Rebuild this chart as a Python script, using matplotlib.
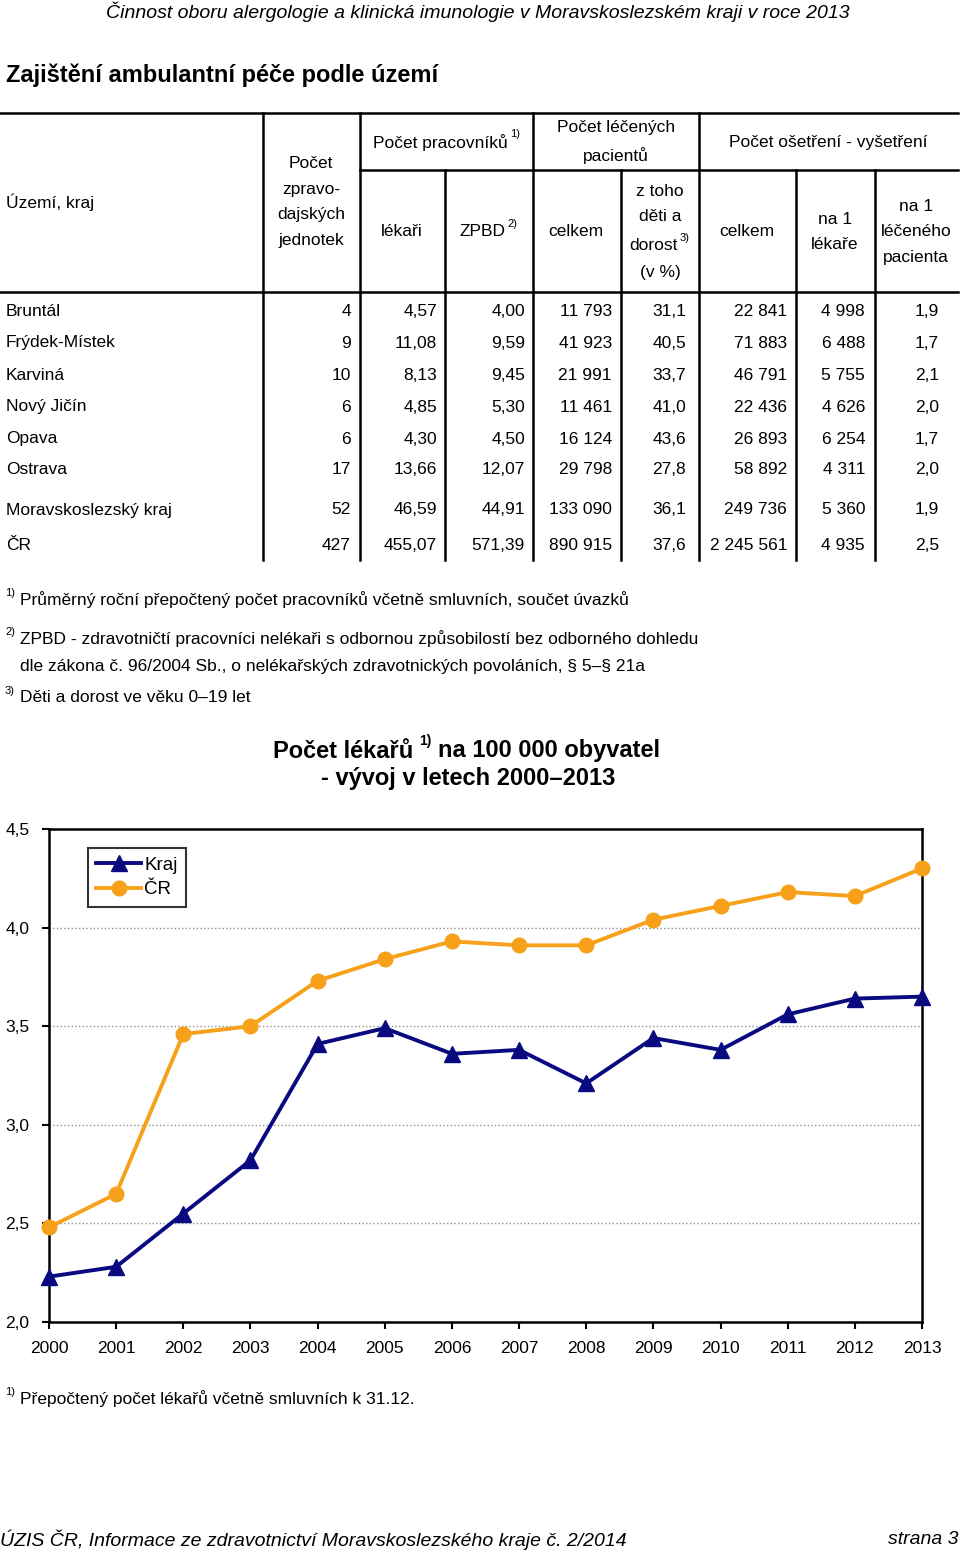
import matplotlib
matplotlib.use('Agg')
import matplotlib.pyplot as plt
from matplotlib.ticker import FuncFormatter

plt.rcParams['font.family'] = ['Liberation Sans', 'DejaVu Sans']

# table data
regions = ['Bruntál', 'Frýdek-Místek', 'Karviná', 'Nový Jičín', 'Opava', 'Ostrava',
           'Moravskoslezský kraj', 'ČR']
jednotky = [4, 9, 10, 6, 6, 17, 52, 427]
lekari = [4.57, 11.08, 8.13, 4.85, 4.30, 13.66, 46.59, 455.07]
zpbd = [4.00, 9.59, 9.45, 5.30, 4.50, 12.07, 44.91, 571.39]
pacienti = [11793, 41923, 21991, 11461, 16124, 29798, 133090, 890915]
deti_pct = [31.1, 40.5, 33.7, 41.0, 43.6, 27.8, 36.1, 37.6]
osetreni = [22841, 71883, 46791, 22436, 26893, 58892, 249736, 2245561]
na_lekare = [4998, 6488, 5755, 4626, 6254, 4311, 5360, 4935]
na_pacienta = [1.9, 1.7, 2.1, 2.0, 1.7, 2.0, 1.9, 2.5]

# chart data
years = list(range(2000, 2014))
kraj = [2.23, 2.28, 2.55, 2.82, 3.41, 3.49, 3.36, 3.38, 3.21, 3.44, 3.38, 3.56, 3.64, 3.65]
cr = [2.48, 2.65, 3.46, 3.50, 3.73, 3.84, 3.93, 3.91, 3.91, 4.04, 4.11, 4.18, 4.16, 4.30]


def fmt_int(v):
    return f'{v:,}'.replace(',', ' ')


def fmt_dec(v, n):
    return f'{v:.{n}f}'.replace('.', ',')


W, H = 960, 1554
fig = plt.figure(figsize=(W / 100, H / 100), dpi=100)

# page axes in pixel coordinates
page = fig.add_axes([0, 0, 1, 1])
page.set_xlim(0, W)
page.set_ylim(H, 0)
page.axis('off')

FS = 12.5
SUP = 8
LS = 1.9
bold = dict(fontweight='bold')
ital = dict(style='italic')


def sup(t, s):
    page.annotate(s, xy=(1, 0.72), xycoords=t, xytext=(2, 0), textcoords='offset points',
                  fontsize=SUP, va='bottom', ha='left')


page.text(478, 12, 'Činnost oboru alergologie a klinická imunologie v Moravskoslezském kraji v roce 2013',
          ha='center', va='center', fontsize=14, **ital)
page.text(6, 75, 'Zajištění ambulantní péče podle území', ha='left', va='center', fontsize=17, **bold)

# table grid
lw = 1.8
page.plot([0, 958], [113, 113], color='black', lw=lw)
page.plot([360, 958], [170, 170], color='black', lw=lw)
page.plot([0, 958], [292, 292], color='black', lw=lw)
for x in [263, 360, 533, 699]:
    page.plot([x, x], [113, 560], color='black', lw=lw)
for x in [445, 621, 796, 875]:
    page.plot([x, x], [170, 560], color='black', lw=lw)

# header texts
page.text(6, 202, 'Území, kraj', ha='left', va='center', fontsize=FS)
page.text(311, 202, 'Počet\nzpravo-\ndajských\njednotek', ha='center', va='center',
          fontsize=FS, linespacing=LS)
t = page.text(440, 143, 'Počet pracovníků', ha='center', va='center', fontsize=FS)
sup(t, '1)')
page.text(402, 232, 'lékaři', ha='center', va='center', fontsize=FS)
t = page.text(482, 232, 'ZPBD', ha='center', va='center', fontsize=FS)
sup(t, '2)')
page.text(616, 142, 'Počet léčených\npacientů', ha='center', va='center', fontsize=FS, linespacing=LS)
page.text(576, 232, 'celkem', ha='center', va='center', fontsize=FS)
page.text(660, 204, 'z toho\nděti a', ha='center', va='center', fontsize=FS, linespacing=LS)
t = page.text(653, 246, 'dorost', ha='center', va='center', fontsize=FS)
sup(t, '3)')
page.text(660, 273, '(v %)', ha='center', va='center', fontsize=FS)
page.text(828, 142, 'Počet ošetření - vyšetření', ha='center', va='center', fontsize=FS)
page.text(747, 232, 'celkem', ha='center', va='center', fontsize=FS)
page.text(835, 232, 'na 1\nlékaře', ha='center', va='center', fontsize=FS, linespacing=LS)
page.text(916, 232, 'na 1\nléčeného\npacienta', ha='center', va='center', fontsize=FS, linespacing=LS)

# table body
row_y = [311, 343, 375, 407, 439, 470, 510, 545]
cols = [
    (351, [fmt_int(v) for v in jednotky]),
    (437, [fmt_dec(v, 2) for v in lekari]),
    (525, [fmt_dec(v, 2) for v in zpbd]),
    (612, [fmt_int(v) for v in pacienti]),
    (686, [fmt_dec(v, 1) for v in deti_pct]),
    (787, [fmt_int(v) for v in osetreni]),
    (865, [fmt_int(v) for v in na_lekare]),
    (939, [fmt_dec(v, 1) for v in na_pacienta]),
]
for y, name in zip(row_y, regions):
    page.text(6, y, name, ha='left', va='center', fontsize=FS)
for xr, vals in cols:
    for y, s in zip(row_y, vals):
        page.text(xr, y, s, ha='right', va='center', fontsize=FS)

# footnotes
notes = [
    (600, '1)', 'Průměrný roční přepočtený počet pracovníků včetně smluvních, součet úvazků'),
    (639, '2)', 'ZPBD - zdravotničtí pracovníci nelékaři s odbornou způsobilostí bez odborného dohledu'),
    (666, None, 'dle zákona č. 96/2004 Sb., o nelékařských zdravotnických povoláních, § 5–§ 21a'),
    (698, '3)', 'Děti a dorost ve věku 0–19 let'),
]
for y, mark, s in notes:
    if mark:
        page.text(5, y - 7, mark, ha='left', va='center', fontsize=SUP)
    page.text(20, y, s, ha='left', va='center', fontsize=FS)

# chart title
t = page.text(273, 751, 'Počet lékařů', ha='left', va='center', fontsize=17, **bold)
s1 = page.annotate('1)', xy=(1, 0.62), xycoords=t, xytext=(4, 0), textcoords='offset points',
                   fontsize=10, va='bottom', ha='left', **bold)
page.annotate('na 100 000 obyvatel', xy=(1, 0.5), xycoords=(s1, t), xytext=(5, 0),
              textcoords='offset points', fontsize=17, va='center', ha='left', **bold)
page.text(468, 779, '- vývoj v letech 2000–2013', ha='center', va='center', fontsize=17, **bold)

# chart footnote and page footer
page.text(5, 1392, '1)', ha='left', va='center', fontsize=SUP)
page.text(20, 1399, 'Přepočtený počet lékařů včetně smluvních k 31.12.', ha='left', va='center', fontsize=FS)
page.text(0, 1540, 'ÚZIS ČR, Informace ze zdravotnictví Moravskoslezského kraje č. 2/2014',
          ha='left', va='center', fontsize=14, **ital)
page.text(958, 1540, 'strana 3', ha='right', va='center', fontsize=14, **ital)

# line chart
ax = fig.add_axes([49 / W, 1 - 1322 / H, (922 - 49) / W, (1322 - 829) / H])
ax.plot(years, kraj, color='#0a0a80', lw=2.8, marker='^', markersize=11, label='Kraj', zorder=4,
        clip_on=False)
ax.plot(years, cr, color='#f7a11a', lw=2.8, marker='o', markersize=10.5, label='ČR', zorder=3,
        clip_on=False)
ax.set_xlim(2000, 2013)
ax.set_ylim(2.0, 4.5)
ax.set_xticks(years)
ax.set_yticks([2.0, 2.5, 3.0, 3.5, 4.0, 4.5])
ax.yaxis.set_major_formatter(FuncFormatter(lambda v, p: fmt_dec(v, 1)))
ax.tick_params(direction='out', length=5, width=1.5, labelsize=FS)
ax.tick_params(axis='x', pad=9)
ax.tick_params(axis='y', pad=9)
ax.grid(axis='y', color='#909090', lw=1.0, ls=':')
for sp in ax.spines.values():
    sp.set_linewidth(1.8)
    sp.set_color('black')
leg = ax.legend(loc='upper left', bbox_to_anchor=(0.0447, 0.961), borderaxespad=0, fontsize=13.5,
                frameon=True, fancybox=False, edgecolor='black', handlelength=2.4,
                handletextpad=0.15, labelspacing=0.4, borderpad=0.45)
leg.get_frame().set_linewidth(1.5)

fig.savefig('out.png', dpi=100)
